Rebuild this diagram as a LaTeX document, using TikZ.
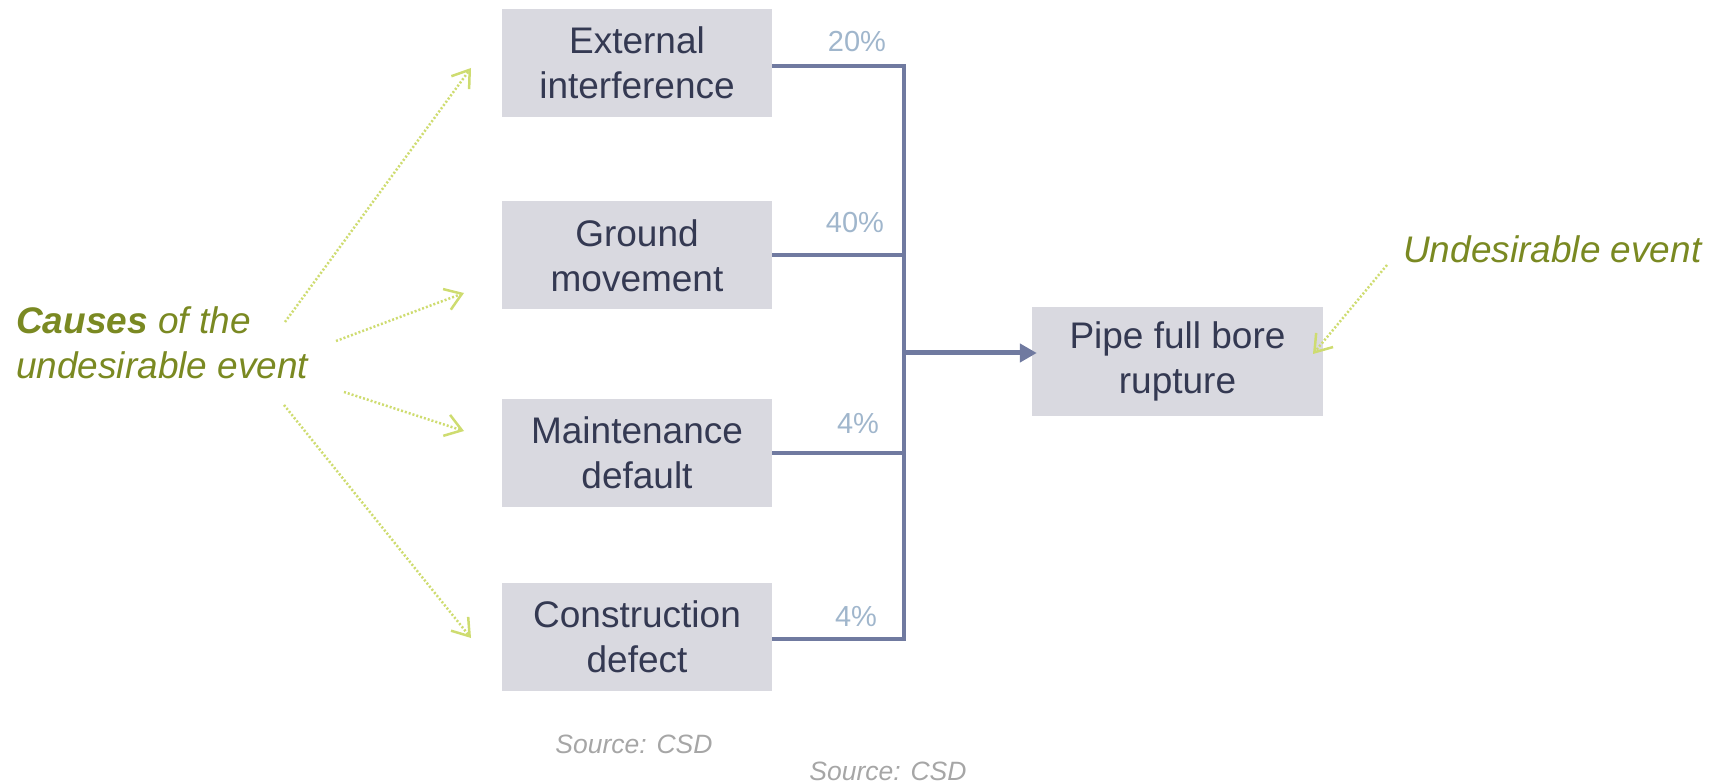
\documentclass[tikz,border=0pt]{standalone}
\usepackage{fontspec}
\setmainfont{Liberation Sans}
\usetikzlibrary{arrows.meta}

\definecolor{boxfill}{RGB}{217,217,224}
\definecolor{boxtext}{RGB}{52,57,82}
\definecolor{linkblue}{RGB}{112,122,160}
\definecolor{pctblue}{RGB}{160,182,204}
\definecolor{olive}{RGB}{122,137,34}
\definecolor{limedot}{RGB}{206,220,112}
\definecolor{srcgrey}{RGB}{166,166,166}

\tikzset{
  causebox/.style={fill=boxfill, text=boxtext, align=center,
    minimum width=270pt, minimum height=108pt, inner sep=0pt,
    font=\fontsize{37}{45}\selectfont},
  eventbox/.style={causebox, minimum width=291pt, minimum height=109pt},
  pct/.style={text=pctblue, anchor=base, inner sep=0pt,
    font=\fontsize{29}{34}\selectfont},
  link/.style={draw=linkblue, line width=4pt},
  hint/.style={draw=limedot, line width=2.5pt, dash pattern=on 2pt off 2pt,
    -{Straight Barb[length=16pt,width=22pt,line width=2.5pt]}},
  note/.style={text=olive, inner sep=0pt,
    font=\fontsize{37}{45}\selectfont\itshape},
  source/.style={text=srcgrey, anchor=base, inner sep=0pt,
    font=\fontsize{26.5}{30}\selectfont\itshape}
}

\begin{document}
\begin{tikzpicture}[x=1pt,y=-1pt]
  \useasboundingbox (0,0) rectangle (1721,783);

  % cause boxes
  \node[causebox] (ext)  at (637,63)    {External\\interference};
  \node[causebox] (gnd)  at (637,255.5) {Ground\\movement};
  \node[causebox] (mnt)  at (637,452.5) {Maintenance\\default};
  \node[causebox] (con)  at (637,637)   {Construction\\defect};

  % top event
  \node[eventbox] (rup) at (1177.5,361.5) {Pipe full bore\\rupture};

  % collecting bus
  \coordinate (bustop) at (904,66);
  \coordinate (busbot) at (904,639);
  \coordinate (junction) at (904,353);

  \draw[link] (ext.east |- bustop) -- (bustop) -- (busbot) -- (con.east |- busbot);
  \draw[link] (gnd.east) -- (gnd.east -| bustop);
  \draw[link] (mnt.east) -- (mnt.east -| bustop);
  \draw[draw=linkblue, line width=5pt, -{Triangle[length=17pt,width=18pt]}]
    (junction) -- ([xshift=5pt]rup.west |- junction);

  % shares
  \node[pct] (p1) at (857,52)  {20\%};
  \node[pct] (p2) at (855,233) {40\%};
  \node[pct] (p3) at (858,433) {4\%};
  \node[pct] (p4) at (856,626) {4\%};

  % annotations
  \node[note, anchor=north west, align=left] (causes) at (16,306)
    {\textbf{Causes} of the\\undesirable event};
  \node[note, anchor=base west] (undes) at (1403,263) {Undesirable event};

  \coordinate (c1) at (285,322);
  \coordinate (c2) at (336,341);
  \coordinate (c3) at (344,392);
  \coordinate (c4) at (284,405);
  \coordinate (t1) at (471,68);
  \coordinate (t2) at (464,293);
  \coordinate (t3) at (464,431);
  \coordinate (t4) at (471,638);
  \draw[hint] (c1) -- (t1);
  \draw[hint] (c2) -- (t2);
  \draw[hint] (c3) -- (t3);
  \draw[hint] (c4) -- (t4);

  \coordinate (u1) at (1387,265);
  \coordinate (u2) at (1313,354);
  \draw[hint] (u1) -- (u2);

  % sources
  \node[source] (src1) at (634,753) {Source: CSD};
  \node[source] (src2) at (888,780) {Source: CSD};
\end{tikzpicture}
\end{document}
